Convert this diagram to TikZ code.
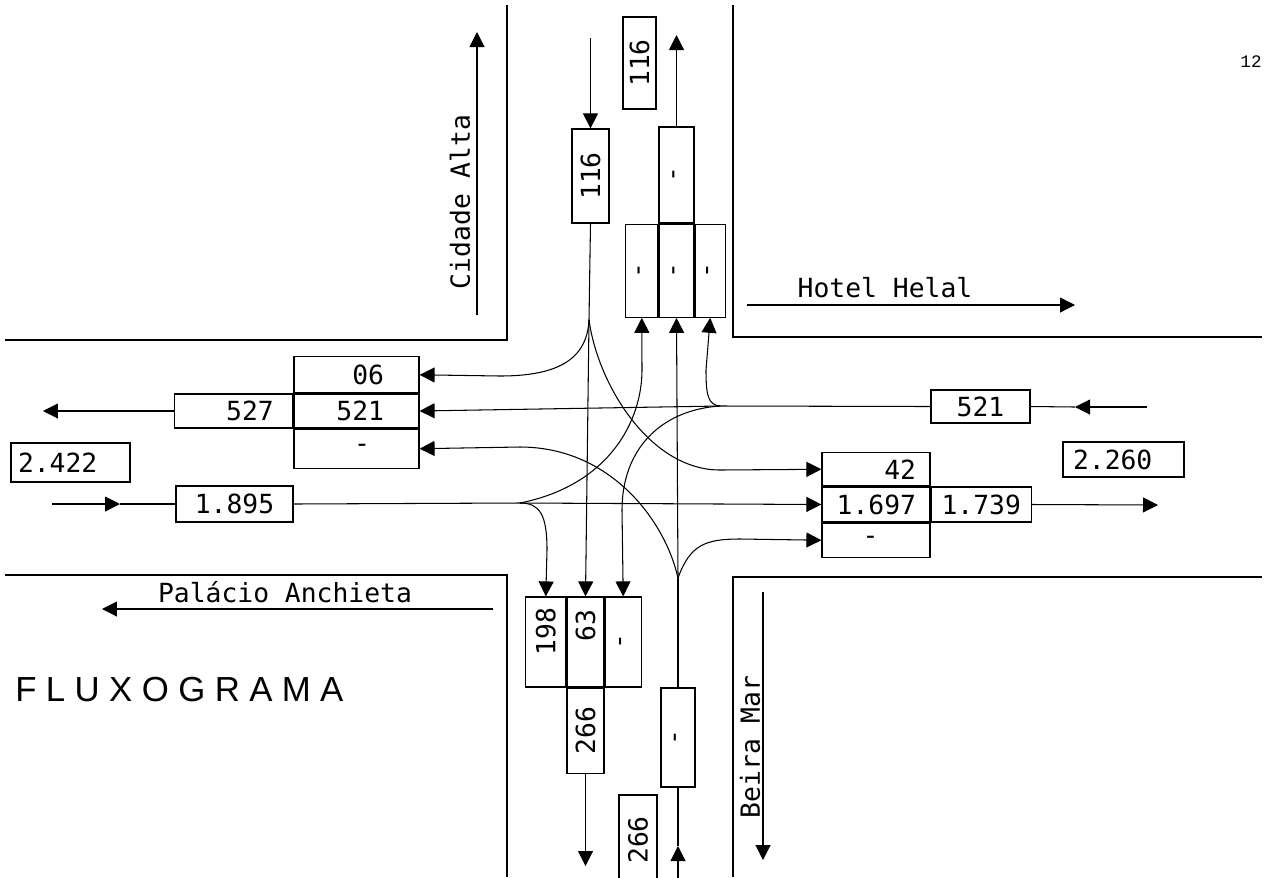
\documentclass[tikz,border=0pt]{standalone}
\usepackage{fontspec}
\usepackage{graphicx}
\usetikzlibrary{arrows.meta}
\newfontfamily\typew{DejaVu Sans Mono}
\newfontfamily\titlefont[LetterSpace=27]{Liberation Sans}
\newfontfamily\pagefont{Liberation Mono}
\begin{document}
\begin{tikzpicture}[>={Triangle[length=0.3cm,width=0.3cm]}, x=0.02cm, y=-0.02cm,
  road/.style={line width=1.2pt},
  flow/.style={line width=0.6pt},
  cell/.style={draw, line width=0.7pt, inner sep=0pt, font=\typew\fontsize{15}{18}\selectfont},
  streetname/.style={inner sep=0pt, font=\typew\fontsize{15}{18}\selectfont}]
\useasboundingbox (0,0) rectangle (1265,877);
% road edges
\draw[road] (5,340) -- (507,340) -- (507,5);
\draw[road] (733,5) -- (733,337) -- (1262,337);
\draw[road] (5,575) -- (507,575) -- (507,877);
\draw[road] (733,877) -- (733,577) -- (1262,577);
% north approach
\node[cell, minimum width=0.74cm, minimum height=1.88cm] (n116in) at (590.5,176) {\rotatebox{90}{116}};
\node[cell, minimum width=0.66cm, minimum height=1.84cm] (n116out) at (639.5,63) {\rotatebox{90}{116}};
\node[cell, minimum width=0.7cm, minimum height=1.92cm] (nOut) at (676.5,175) {\rotatebox{90}{-}};
\node[cell, minimum width=0.7cm, minimum height=1.86cm, anchor=north] (nIn2) at (nOut.south) {\rotatebox{90}{-}};
\node[cell, minimum width=0.64cm, minimum height=1.86cm, anchor=east] (nIn1) at (nIn2.west) {\rotatebox{90}{-}};
\node[cell, minimum width=0.6cm, minimum height=1.86cm, anchor=west] (nIn3) at (nIn2.east) {\rotatebox{90}{-}};
\coordinate (nTop) at (590.5,38);
\coordinate (nSplit) at (589,320);
\coordinate (nEnd) at (676.5,35);
\draw[flow,->] (nTop) -- (n116in.north);
\draw[flow] (n116in.south) -- (nSplit);
\draw[flow,->] (nOut.north) -- (nEnd);
% south approach
\node[cell, minimum width=0.74cm, minimum height=1.8cm] (s63) at (585.5,642) {\rotatebox{90}{\makebox[1.28cm][r]{63}}};
\node[cell, minimum width=0.8cm, minimum height=1.8cm, anchor=east] (s198) at (s63.west) {\rotatebox{90}{\makebox[1.36cm][r]{198}}};
\node[cell, minimum width=0.72cm, minimum height=1.8cm, anchor=west] (s0) at (s63.east) {\rotatebox{90}{-}};
\node[cell, minimum width=0.74cm, minimum height=1.7cm, anchor=north] (s266out) at (s63.south) {\rotatebox{90}{266}};
\node[cell, minimum width=0.68cm, minimum height=1.98cm] (sIn) at (678,737.5) {\rotatebox{90}{-}};
\node[cell, minimum width=0.76cm, minimum height=1.8cm] (s266in) at (638,840) {\rotatebox{90}{266}};
\coordinate (sEnd) at (585.5,866);
\coordinate (sBot) at (678,880);
\coordinate (sArrow) at (678,846);
\coordinate (sV) at (678,578);
\draw[flow,->] (s266out.south) -- (sEnd);
\draw[flow,->] (sBot) -- (sArrow);
\draw[flow] (sArrow) -- (sIn.south);
\draw[flow] (sIn.north) -- (sV);
% west approach
\node[cell, minimum width=2.5cm, minimum height=0.68cm, text width=1.1cm, align=right] (w521) at (356.5,411) {521};
\node[cell, minimum width=2.5cm, minimum height=0.72cm, text width=1.1cm, align=right, anchor=south] (w06) at (w521.north) {06};
\node[cell, minimum width=2.5cm, minimum height=0.78cm, text width=0.54cm, align=right, anchor=north] (wdash) at (w521.south) {-};
\node[cell, minimum width=2.36cm, minimum height=0.68cm, text width=1.6cm, align=right, anchor=east] (w527) at (w521.west) {527};
\node[cell, minimum width=2.38cm, minimum height=0.78cm, text width=2.1cm, align=left] (w2422) at (70.5,462.5) {2.422};
\node[cell, minimum width=2.34cm, minimum height=0.72cm] (w1895) at (234.5,504) {1.895};
\coordinate (wEnd) at (43,411);
\coordinate (wStart) at (52,504);
\coordinate (wArrow) at (120,504);
\coordinate (wSplit) at (520,503);
\draw[flow,->] (w527.west) -- (wEnd);
\draw[flow,->] (wStart) -- (wArrow);
\draw[flow] (wArrow) -- (w1895.west);
\draw[flow] (w1895.east) -- (wSplit);
% east approach
\node[cell, minimum width=2.16cm, minimum height=0.7cm, text width=1.6cm, align=right] (e1697) at (876,504.5) {1.697};
\node[cell, minimum width=2.16cm, minimum height=0.66cm, text width=1.6cm, align=right, anchor=south] (e42) at (e1697.north) {42};
\node[cell, minimum width=2.16cm, minimum height=0.68cm, text width=0.54cm, align=left, anchor=north] (edash) at (e1697.south) {-};
\node[cell, minimum width=2cm, minimum height=0.7cm, anchor=west] (e1739) at (e1697.east) {1.739};
\node[cell, minimum width=1.98cm, minimum height=0.66cm] (e521) at (980.5,406.5) {521};
\node[cell, minimum width=2.42cm, minimum height=0.7cm, text width=2.02cm, align=left] (e2260) at (1123.5,459.5) {2.260};
\coordinate (eEnd) at (1158,505);
\coordinate (eStart) at (1147,407);
\coordinate (eArrow) at (1075,407);
\coordinate (eSplit) at (720,406);
\draw[flow,->] (e1739.east) -- (eEnd);
\draw[flow,->] (eStart) -- (eArrow);
\draw[flow] (eArrow) -- (e521.east);
\draw[flow] (e521.west) -- (eSplit);
% turning movements
\draw[flow,->] (nSplit) .. controls (587,358) and (560,376) .. (500,376) -- (w06.east);
\draw[flow,->] (nSplit) -- (s63.north);
\draw[flow,->] (nSplit) .. controls (598,385) and (650,470) .. (720,470) -- (e42.west);
\draw[flow,->] (eSplit) .. controls (708,405) and (706,395) .. (706,370) -- (nIn3.south);
\draw[flow,->] (eSplit) -- (w521.east);
\draw[flow,->] (eSplit) .. controls (660,410) and (622,450) .. (622,510) -- (s0.north);
\draw[flow,->] (wSplit) .. controls (610,485) and (642,420) .. (642,370) -- (nIn1.south);
\draw[flow,->] (wSplit) -- (e1697.west);
\draw[flow,->] (wSplit) .. controls (540,503) and (547,515) .. (547,550) -- (s198.north);
\draw[flow,->] (sV) -- (nIn2.south);
\draw[flow,->] (sV) .. controls (665,520) and (610,447) .. (520,447) -- (wdash.east);
\draw[flow,->] (sV) .. controls (690,545) and (705,539) .. (740,539) -- (edash.west);
% street names
\coordinate (caFrom) at (477,315);
\coordinate (caTo) at (477,32);
\draw[flow,->] (caFrom) -- (caTo);
\node[streetname, rotate=90] (cidade) at (460,202) {Cidade Alta};
\coordinate (hhFrom) at (747,305);
\coordinate (hhTo) at (1075,305);
\draw[flow,->] (hhFrom) -- (hhTo);
\node[streetname] (hotel) at (885,288) {Hotel Helal};
\coordinate (paFrom) at (493,609);
\coordinate (paTo) at (102,609);
\draw[flow,->] (paFrom) -- (paTo);
\node[streetname] (palacio) at (285,592) {Palácio Anchieta};
\coordinate (bmFrom) at (763,592);
\coordinate (bmTo) at (763,860);
\draw[flow,->] (bmFrom) -- (bmTo);
\node[streetname, rotate=90] (beira) at (750,747) {Beira Mar};
% title and page
\node[anchor=west, inner sep=0pt, font=\titlefont\fontsize{19.8}{22}\selectfont] (title) at (15,689.5) {FLUXOGRAMA};
\node[inner sep=0pt, font=\pagefont\fontsize{10}{12}\selectfont] (page) at (1251,62) {12};
\end{tikzpicture}
\end{document}
